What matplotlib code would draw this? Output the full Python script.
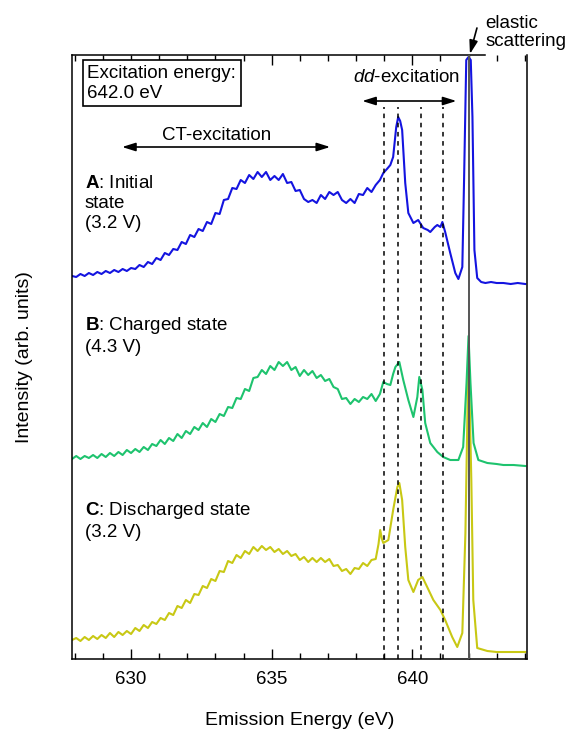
import matplotlib
matplotlib.use("Agg")
import matplotlib.pyplot as plt
from matplotlib.ticker import MultipleLocator

plt.rcParams["font.family"] = "Liberation Sans"
plt.rcParams["mathtext.fontset"] = "custom"
plt.rcParams["mathtext.rm"] = "Liberation Sans"
plt.rcParams["mathtext.it"] = "Liberation Sans:italic"
plt.rcParams["mathtext.bf"] = "Liberation Sans:bold"

# ---------------- spectra ----------------
# shared channels over the CT-excitation region (eV)
ct_energy = [627.90, 628.05, 628.20, 628.35, 628.50, 628.65, 628.80, 628.95, 629.10, 629.25,
             629.40, 629.55, 629.70, 629.85, 630.00, 630.15, 630.30, 630.45, 630.60, 630.75,
             630.90, 631.05, 631.20, 631.35, 631.50, 631.65, 631.80, 631.95, 632.10, 632.25,
             632.40, 632.55, 632.70, 632.85, 633.00, 633.15, 633.30, 633.45, 633.60, 633.75,
             633.90, 634.05, 634.20, 634.35, 634.50, 634.65, 634.80, 634.95, 635.10, 635.25,
             635.40, 635.55, 635.70, 635.85, 636.00, 636.15, 636.30, 636.45, 636.60, 636.75,
             636.90, 637.05, 637.20, 637.35, 637.50, 637.65, 637.80, 637.95, 638.10, 638.25,
             638.40, 638.55, 638.70]

ct_A = [3, 2, 5, 3, 6, 4, 7, 5, 8, 6,
        9, 7, 10, 8, 11, 10, 14, 12, 17, 15,
        21, 19, 26, 24, 30, 29, 37, 35, 44, 42,
        50, 48, 57, 55, 66, 65, 79, 80, 91, 90,
        99, 96, 104, 100, 107, 102, 107, 99, 103, 99,
        105, 96, 97, 88, 89, 80, 77, 79, 76, 84,
        80, 87, 84, 87, 79, 76, 80, 76, 85, 84,
        91, 87, 94]

ct_B = [10, 13, 10, 13, 11, 14, 11, 15, 12, 16,
        13, 17, 14, 19, 16, 20, 17, 22, 19, 25,
        23, 29, 25, 31, 28, 35, 31, 38, 35, 42,
        39, 46, 42, 50, 47, 55, 53, 62, 61, 71,
        70, 80, 78, 91, 92, 99, 95, 103, 99, 107,
        103, 107, 99, 102, 93, 99, 94, 98, 91, 94,
        88, 90, 82, 80, 70, 71, 65, 70, 67, 72,
        70, 75, 68]

ct_C = [19, 21, 18, 22, 19, 23, 20, 24, 21, 26,
        22, 27, 24, 28, 25, 31, 28, 34, 31, 37,
        35, 41, 39, 46, 44, 53, 51, 59, 56, 65,
        64, 73, 71, 80, 78, 88, 87, 98, 96, 104,
        101, 108, 105, 112, 108, 113, 109, 112, 107, 110,
        105, 108, 103, 105, 99, 102, 97, 101, 97, 101,
        97, 100, 93, 94, 88, 90, 85, 91, 90, 96,
        93, 99, 100]

# dd-excitation and elastic region, sampled per spectrum
dd_energy_A = [638.85, 638.97, 639.10, 639.22, 639.32, 639.43, 639.50, 639.57, 639.64, 639.75,
               639.86, 640.04, 640.21, 640.30, 640.39, 640.55, 640.64, 640.80, 640.89, 641.00,
               641.07, 641.17, 641.35, 641.53, 641.64, 641.78, 641.84, 641.92, 642.00, 642.08,
               642.14, 642.21, 642.31, 642.45, 642.60, 642.80, 643.00, 643.24, 643.50, 643.75,
               644.02]
dd_A = [99, 106, 110, 114, 122, 152, 162, 158, 149, 96,
        66, 56, 59, 55, 51, 49, 47, 52, 54, 52,
        57, 47, 26, 6, 0, 12, 96, 219, 222, 219,
        162, 29, 1, -3, -4, -3, -4, -4, -5, -4,
        -5]

dd_energy_B = [638.85, 638.97, 639.10, 639.22, 639.32, 639.40, 639.54, 639.68, 639.86, 640.04,
               640.18, 640.25, 640.36, 640.46, 640.64, 640.89, 641.10, 641.35, 641.64, 641.81,
               641.93, 642.00, 642.07, 642.18, 642.35, 642.67, 643.00, 643.24, 643.60, 644.02]
dd_B = [75, 87, 85, 84, 95, 102, 107, 89, 69, 52,
        72, 92, 79, 46, 26, 17, 12, 9, 9, 22,
        86, 133, 86, 26, 9, 6, 5, 4, 4, 3]

dd_energy_C = [638.80, 638.86, 638.92, 638.97, 639.15, 639.32, 639.47, 639.54, 639.64, 639.75,
               639.86, 640.04, 640.21, 640.36, 640.53, 640.75, 641.00, 641.17, 641.42, 641.60,
               641.78, 641.89, 642.00, 642.10, 642.17, 642.31, 642.67, 643.00, 643.24, 643.60,
               644.02]
dd_C = [115, 129, 120, 116, 119, 149, 172, 176, 159, 112,
        79, 67, 79, 82, 72, 59, 49, 39, 22, 12,
        26, 126, 309, 179, 59, 11, 8, 7, 7, 7,
        7]

offsets = [380, 190, 0]
colors = ["#1414e0", "#1ec36e", "#c8c814"]
labels = ["$\\mathbf{A}$: Initial\nstate\n(3.2 V)",
          "$\\mathbf{B}$: Charged state\n(4.3 V)",
          "$\\mathbf{C}$: Discharged state\n(3.2 V)"]
label_y = [484, 344, 159]

dd_lines = [639.0, 639.5, 640.3, 641.1]
elastic = 642.0

spectra = [
    (ct_energy + dd_energy_A, ct_A + dd_A),
    (ct_energy + dd_energy_B, ct_B + dd_B),
    (ct_energy + dd_energy_C, ct_C + dd_C),
]

# ---------------- plot ----------------
fig = plt.figure(figsize=(5.78, 7.29), dpi=100)
ax = fig.add_axes([72 / 578, 1 - 659 / 729, 455 / 578, 604 / 729])

# draw C first so the upper spectra sit on top of it
for k in [2, 1, 0]:
    e, y = spectra[k]
    ax.plot(e, [v + offsets[k] for v in y], color=colors[k], lw=1.5, zorder=2)
    ax.text(628.36, label_y[k], labels[k], fontsize=13.5, va="top", ha="left",
            linespacing=1.25)

for e in dd_lines:
    ax.plot([e, e], [0, 552], color="black", lw=1.1, dashes=(3, 3), zorder=3)
ax.axvline(elastic, color="#555555", lw=1.4, zorder=3)

ax.text(628.45, 594, "Excitation energy:\n642.0 eV", fontsize=13.5, va="top", ha="left",
        linespacing=1.2,
        bbox=dict(boxstyle="square,pad=0.25", fc="white", ec="black", lw=1.2))

ax.text(633.06, 524, "CT-excitation", fontsize=13.5, ha="center", va="center")
ax.annotate("", xy=(629.68, 512), xytext=(637.08, 512),
            arrowprops=dict(arrowstyle="<|-|>,head_length=0.8,head_width=0.25",
                            color="black", lw=1.2, shrinkA=0, shrinkB=0))

ax.text(639.8, 582, "$\\mathit{dd}$-excitation", fontsize=13.5, ha="center", va="center")
ax.annotate("", xy=(638.22, 558), xytext=(641.57, 558),
            arrowprops=dict(arrowstyle="<|-|>,head_length=0.8,head_width=0.25",
                            color="black", lw=1.2, shrinkA=0, shrinkB=0))

ax.text(642.6, 644, "elastic\nscattering", fontsize=13.5, ha="left", va="top",
        linespacing=1.05, clip_on=False)
ax.annotate("", xy=(642.05, 605), xytext=(642.3, 631), annotation_clip=False,
            arrowprops=dict(arrowstyle="-|>,head_length=0.8,head_width=0.25",
                            color="black", lw=1.2, shrinkA=0, shrinkB=0))

ax.set_xlim(627.9, 644.08)
ax.set_ylim(0, 604)
ax.spines["top"].set_bounds(627.9, 642.58)
for s in ax.spines.values():
    s.set_linewidth(1.1)

ax.xaxis.set_major_locator(MultipleLocator(5))
ax.xaxis.set_minor_locator(MultipleLocator(1))
ax.tick_params(axis="x", which="both", direction="in", top=True, bottom=True,
               width=1, labelsize=13.5, pad=9)
ax.tick_params(axis="x", which="major", length=7)
ax.tick_params(axis="x", which="minor", length=4)
ax.set_yticks([])

ax.set_xlabel("Emission Energy (eV)", fontsize=14, labelpad=17)
ax.set_ylabel("Intensity (arb. units)", fontsize=14, labelpad=28)

fig.savefig("out.png", dpi=100)
